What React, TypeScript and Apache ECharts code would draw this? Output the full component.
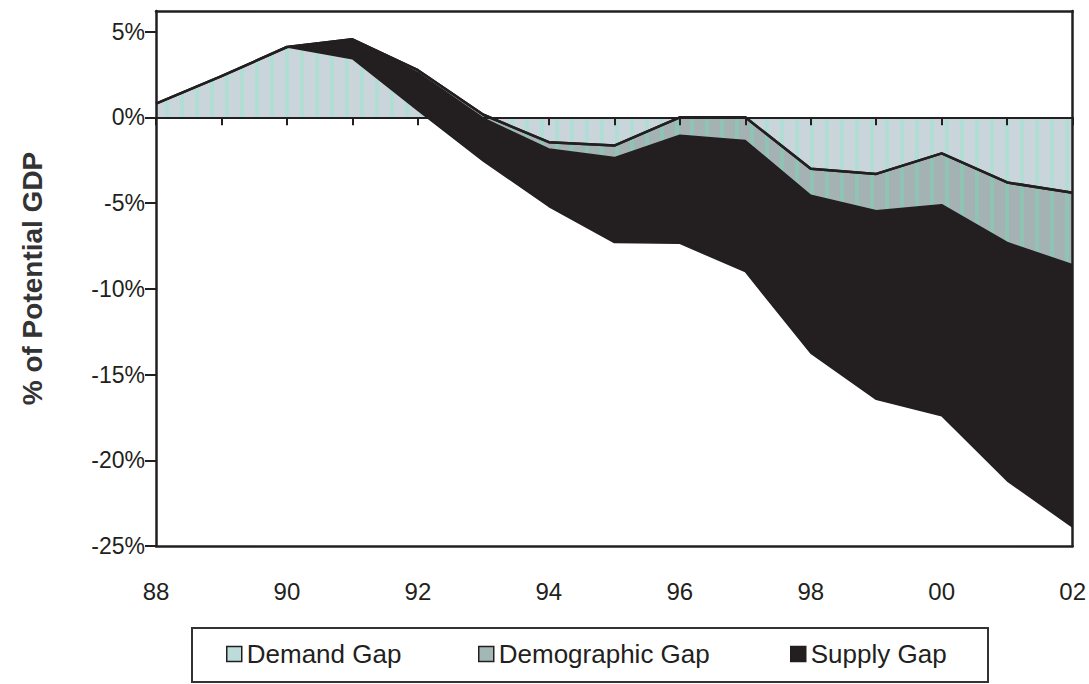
import React, { useEffect, useRef } from "react";
import * as echarts from "echarts";

const years = ["88", "89", "90", "91", "92", "93", "94", "95", "96", "97", "98", "99", "00", "01", "02"];
const demandGap = [0.8, 2.4, 4.1, 4.55, 2.75, 0.15, -1.45, -1.65, 0.0, 0.0, -3.0, -3.3, -2.1, -3.8, -4.4];
const demographicGap = [0, 0, 0, 0, -0.15, -0.2, -0.4, -0.7, -1.05, -1.35, -1.55, -2.15, -3.0, -3.5, -4.2];
const supplyGap = [0, 0, 0, -1.13, -2.2, -2.5, -3.35, -4.95, -6.3, -7.65, -9.2, -11.0, -12.3, -13.9, -15.3];
const yTicks = [-25, -20, -15, -10, -5, 0, 5];

const FONT = "'Liberation Sans', Arial, sans-serif";
const INK = "#231f20";
const DEMAND_FILL = "#c9d5da";
const DEMOG_FILL = "#a5b2b4";
const SUPPLY_FILL = "#231f20";

export default function App() {
  const ref = useRef<HTMLDivElement>(null);

  useEffect(() => {
    if (!ref.current) return;
    const chart = echarts.init(ref.current, null, { renderer: "svg" });

    const grid = { left: 156, top: 11, width: 917, height: 535 };

    const legendItem = (name: string, color: string, left: number) => ({
      show: true,
      left,
      top: 641,
      padding: 0,
      itemWidth: 15,
      itemHeight: 15,
      icon: "rect",
      selectedMode: false,
      textStyle: { fontFamily: FONT, fontSize: 26, color: INK },
      data: [{ name, itemStyle: { color, borderColor: INK, borderWidth: 1.5, decal: "none" } }],
    });

    const stripes = (color: string) => ({
      symbol: "rect",
      symbolSize: 1,
      color,
      dashArrayX: [4, 11],
      dashArrayY: [10, 0],
      rotation: 0,
    });

    chart.setOption({
      animation: false,
      backgroundColor: "#ffffff",
      grid,
      legend: [
        legendItem("Demand Gap", "#bcdcd9", 226),
        legendItem("Demographic Gap", "#a3b7b6", 478),
        legendItem("Supply Gap", SUPPLY_FILL, 790),
      ],
      graphic: [
        {
          type: "rect",
          shape: { x: 192, y: 628, width: 796, height: 54 },
          style: { fill: "none", stroke: "#333", lineWidth: 2 },
          z: 0,
        },
      ],
      xAxis: [
        {
          type: "category",
          data: years,
          boundaryGap: false,
          z: 10,
          axisLine: { onZero: true, lineStyle: { color: INK, width: 2 } },
          axisTick: { show: true, interval: 0, length: 8, inside: false, lineStyle: { color: INK, width: 2 } },
          axisLabel: { show: false },
          splitLine: { show: false },
        },
        {
          type: "category",
          data: years,
          boundaryGap: false,
          position: "bottom",
          z: 10,
          axisLine: { onZero: false, lineStyle: { color: INK, width: 2.5 } },
          axisTick: { show: false },
          axisLabel: {
            interval: 1,
            margin: 33,
            fontFamily: FONT,
            fontSize: 24,
            color: INK,
          },
          splitLine: { show: false },
        },
        {
          type: "category",
          data: years,
          boundaryGap: false,
          position: "top",
          z: 10,
          axisLine: { onZero: false, lineStyle: { color: INK, width: 2.5 } },
          axisTick: { show: false },
          axisLabel: { show: false },
          splitLine: { show: false },
        },
      ],
      yAxis: [
        {
          type: "value",
          min: -25,
          max: 6.2,
          interval: 5,
          z: 10,
          name: "% of Potential GDP",
          nameLocation: "middle",
          nameRotate: 90,
          nameGap: 110,
          nameTextStyle: { fontFamily: FONT, fontSize: 28, fontWeight: "bold", color: "#333" },
          axisLine: { show: true, lineStyle: { color: INK, width: 2.5 } },
          axisTick: { show: true, length: 11, customValues: yTicks, lineStyle: { color: INK, width: 2 } },
          axisLabel: {
            customValues: yTicks,
            margin: 11,
            fontFamily: FONT,
            fontSize: 23,
            color: INK,
            formatter: (v: number) => `${v}%`,
          },
          splitLine: { show: false },
        },
        {
          type: "value",
          min: -25,
          max: 6.2,
          interval: 5,
          position: "right",
          z: 10,
          axisLine: { show: true, lineStyle: { color: INK, width: 2.5 } },
          axisTick: { show: false },
          axisLabel: { show: false },
          splitLine: { show: false },
        },
      ],
      series: [
        {
          name: "Demand Gap",
          type: "line",
          stack: "gap",
          stackStrategy: "all",
          symbol: "none",
          data: demandGap,
          lineStyle: { color: INK, width: 2.5 },
          itemStyle: { color: DEMAND_FILL, decal: stripes("rgba(160,228,210,0.6)") },
          areaStyle: { color: DEMAND_FILL, opacity: 1 },
        },
        {
          name: "Demographic Gap",
          type: "line",
          stack: "gap",
          stackStrategy: "all",
          symbol: "none",
          data: demographicGap,
          lineStyle: { color: INK, width: 1.5 },
          itemStyle: { color: DEMOG_FILL, decal: stripes("rgba(125,210,180,0.55)") },
          areaStyle: { color: DEMOG_FILL, opacity: 1 },
        },
        {
          name: "Supply Gap",
          type: "line",
          stack: "gap",
          stackStrategy: "all",
          symbol: "none",
          data: supplyGap,
          lineStyle: { color: INK, width: 1.5 },
          itemStyle: { color: SUPPLY_FILL },
          areaStyle: { color: SUPPLY_FILL, opacity: 1 },
        },
        {
          name: "Demand Gap outline",
          type: "line",
          symbol: "none",
          silent: true,
          z: 5,
          data: demandGap,
          lineStyle: { color: INK, width: 2.5 },
        },
      ],
    });

    return () => chart.dispose();
  }, []);

  return (
    <div
      ref={ref}
      style={{ position: "fixed", left: 0, top: 0, width: 1089, height: 684, background: "#fff" }}
    />
  );
}
